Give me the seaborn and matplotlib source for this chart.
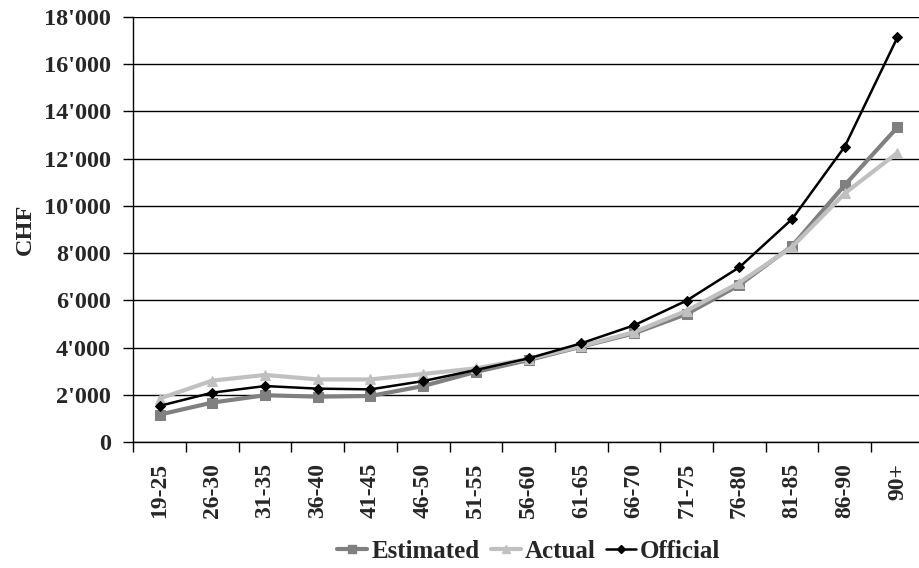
import matplotlib
matplotlib.use("Agg")
import matplotlib.pyplot as plt
import matplotlib.ticker as mticker
from matplotlib.lines import Line2D
import numpy as np
import pandas as pd
import seaborn as sns

categories = ["19-25", "26-30", "31-35", "36-40", "41-45", "46-50", "51-55", "56-60",
              "61-65", "66-70", "71-75", "76-80", "81-85", "86-90", "90+"]
estimated = [1160, 1670, 1980, 1920, 1950, 2370, 2970, 3470, 4040, 4600, 5420, 6650, 8300, 10880, 13330]
actual = [1840, 2600, 2840, 2650, 2650, 2880, 3120, 3520, 4060, 4650, 5560, 6750, 8260, 10530, 12250]
official = [1530, 2090, 2370, 2260, 2230, 2580, 3050, 3540, 4180, 4940, 5990, 7400, 9440, 12510, 17140]

series_names = ["Estimated", "Actual", "Official"]
colors = {"Estimated": "#808080", "Actual": "#C0C0C0", "Official": "#000000"}
markers = {"Estimated": "s", "Actual": "^", "Official": "D"}
lws = {"Estimated": 3.0, "Actual": 3.0, "Official": 1.8}
msizes = {"Estimated": 7, "Actual": 7, "Official": 5.5}

df = pd.DataFrame({
    "Age": categories * 3,
    "CHF": estimated + actual + official,
    "Series": ["Estimated"] * 15 + ["Actual"] * 15 + ["Official"] * 15,
})
df["pos"] = np.tile(np.arange(len(categories)), 3)

sns.set_theme(style="white")
plt.rcParams["font.family"] = ["Liberation Serif", "DejaVu Serif"]
plt.rcParams["font.weight"] = "bold"

FS = 17.5

fig = plt.figure(figsize=(9.19, 5.68), dpi=100)
ax = fig.add_axes([133.3 / 919, 126 / 568, 790.5 / 919, 425 / 568])

for name in series_names:
    sub = df[df["Series"] == name]
    sns.lineplot(data=sub, x="pos", y="CHF", ax=ax, color=colors[name],
                 linewidth=lws[name], marker=markers[name], markersize=msizes[name],
                 markeredgecolor=colors[name], markerfacecolor=colors[name],
                 sort=False, legend=False, zorder=3 if name == "Official" else 2)

ax.set_xlim(-0.5, len(categories) - 0.5)
ax.set_ylim(0, 18000)
ax.set_yticks(np.arange(0, 18001, 2000))
ax.yaxis.set_major_formatter(mticker.FuncFormatter(lambda v, p: f"{int(v):,}".replace(",", "'")))
ax.yaxis.grid(True, color="#000000", linewidth=1.0)
ax.set_axisbelow(True)

ax.set_xticks(np.arange(len(categories)))
ax.set_xticklabels(categories, rotation=90, fontsize=FS - 0.5, fontweight="bold")
ax.set_xticks(np.arange(-0.5, len(categories), 1.0), minor=True)
ax.tick_params(axis="x", which="major", length=0, pad=15)
ax.tick_params(axis="x", which="minor", length=7, width=1, color="black", direction="out", bottom=True)
ax.tick_params(axis="y", which="major", length=7, width=1, color="black", direction="out", left=True,
               labelsize=FS, pad=9)
for lbl in ax.get_yticklabels():
    lbl.set_fontweight("bold")

ax.set_xlabel("")
ax.set_ylabel("CHF", fontsize=FS, fontweight="bold", labelpad=6)

for s in ["top", "right"]:
    ax.spines[s].set_visible(False)
for s in ["left", "bottom"]:
    ax.spines[s].set_color("black")
    ax.spines[s].set_linewidth(1.0)

handles = [Line2D([0], [0], color=colors[n], lw=lws[n], marker=markers[n],
                  markersize=msizes[n] - 1, markeredgecolor=colors[n]) for n in series_names]
fig.legend(handles, series_names, loc="center", bbox_to_anchor=(529 / 919, 1 - 551 / 568),
           ncol=3, frameon=False, handlelength=1.2, handletextpad=0.15, columnspacing=0.45,
           prop={"family": "Liberation Serif", "weight": "bold", "size": 18})

fig.savefig("out.png", dpi=100)
